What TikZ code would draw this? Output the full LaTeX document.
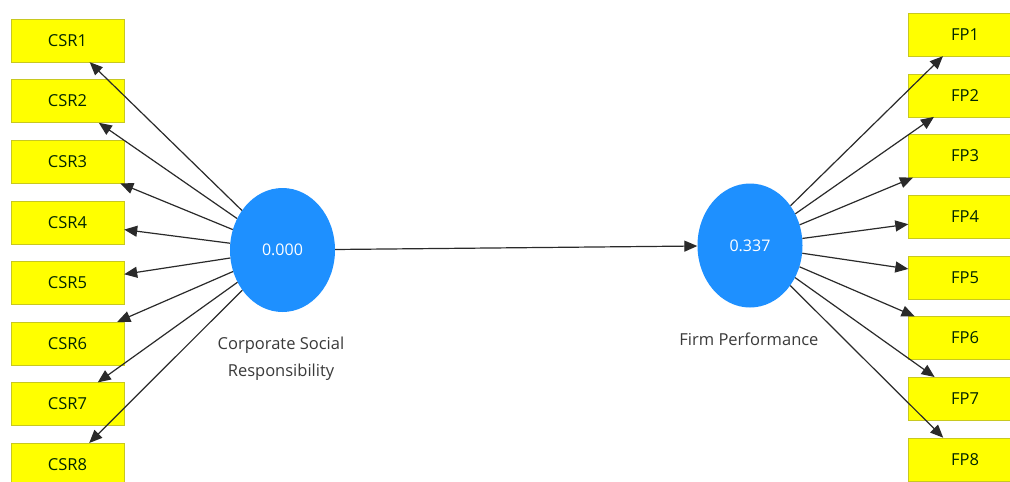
\documentclass[tikz,border=0pt]{standalone}
\usepackage{fontspec}
\setmainfont{Open Sans}
\usetikzlibrary{shapes.geometric,arrows.meta}
\definecolor{boxyellow}{HTML}{FFFF00}
\definecolor{boxedge}{HTML}{C8C820}
\definecolor{lvblue}{HTML}{1E90FF}
\definecolor{linegray}{HTML}{2A2A2A}
\definecolor{txtgray}{HTML}{3A3A3A}
\begin{document}
\begin{tikzpicture}[x=1pt,y=-1pt,
  ind/.style={rectangle,draw=boxedge,fill=boxyellow,minimum width=113pt,minimum height=43pt,inner sep=0pt,font=\fontsize{16.5}{18}\selectfont,text=black!85!green},
  lv/.style={ellipse,fill=lvblue,minimum width=105pt,minimum height=124pt,inner sep=0pt,text=white,font=\fontsize{16}{18}\selectfont},
  lab/.style={text=txtgray,align=center,font=\fontsize{16.5}{27}\selectfont},
  arr/.style={draw=linegray,line width=1.2pt,-{Triangle[length=13pt,width=11pt]}}]
\clip (0,0) rectangle (1010,482);
\fill[white] (0,0) rectangle (1010,482);
% latent variables
\node[lv] (csr) at (282.5,250) {0.000};
\node[lv] (fp) at (750,245.5) {0.337};
\node[lab] (csrlab) at (281,358.5) {Corporate Social\\Responsibility};
\node[lab] (fplab) at (749,339) {Firm Performance};
% indicators
\foreach \i in {1,...,8}{
  \node[ind] (csr\i) at (67.5,{40.5+60.6*(\i-1)}) {CSR\i};
  \node[ind] (fp\i) at (965,{34.5+60.7*(\i-1)}) {FP\i};
}
\foreach \i in {1,...,8}{
  \draw[arr] (csr) -- (csr\i);
  \draw[arr] (fp) -- (fp\i);
}
\draw[arr] (csr) -- (fp);
\end{tikzpicture}
\end{document}
